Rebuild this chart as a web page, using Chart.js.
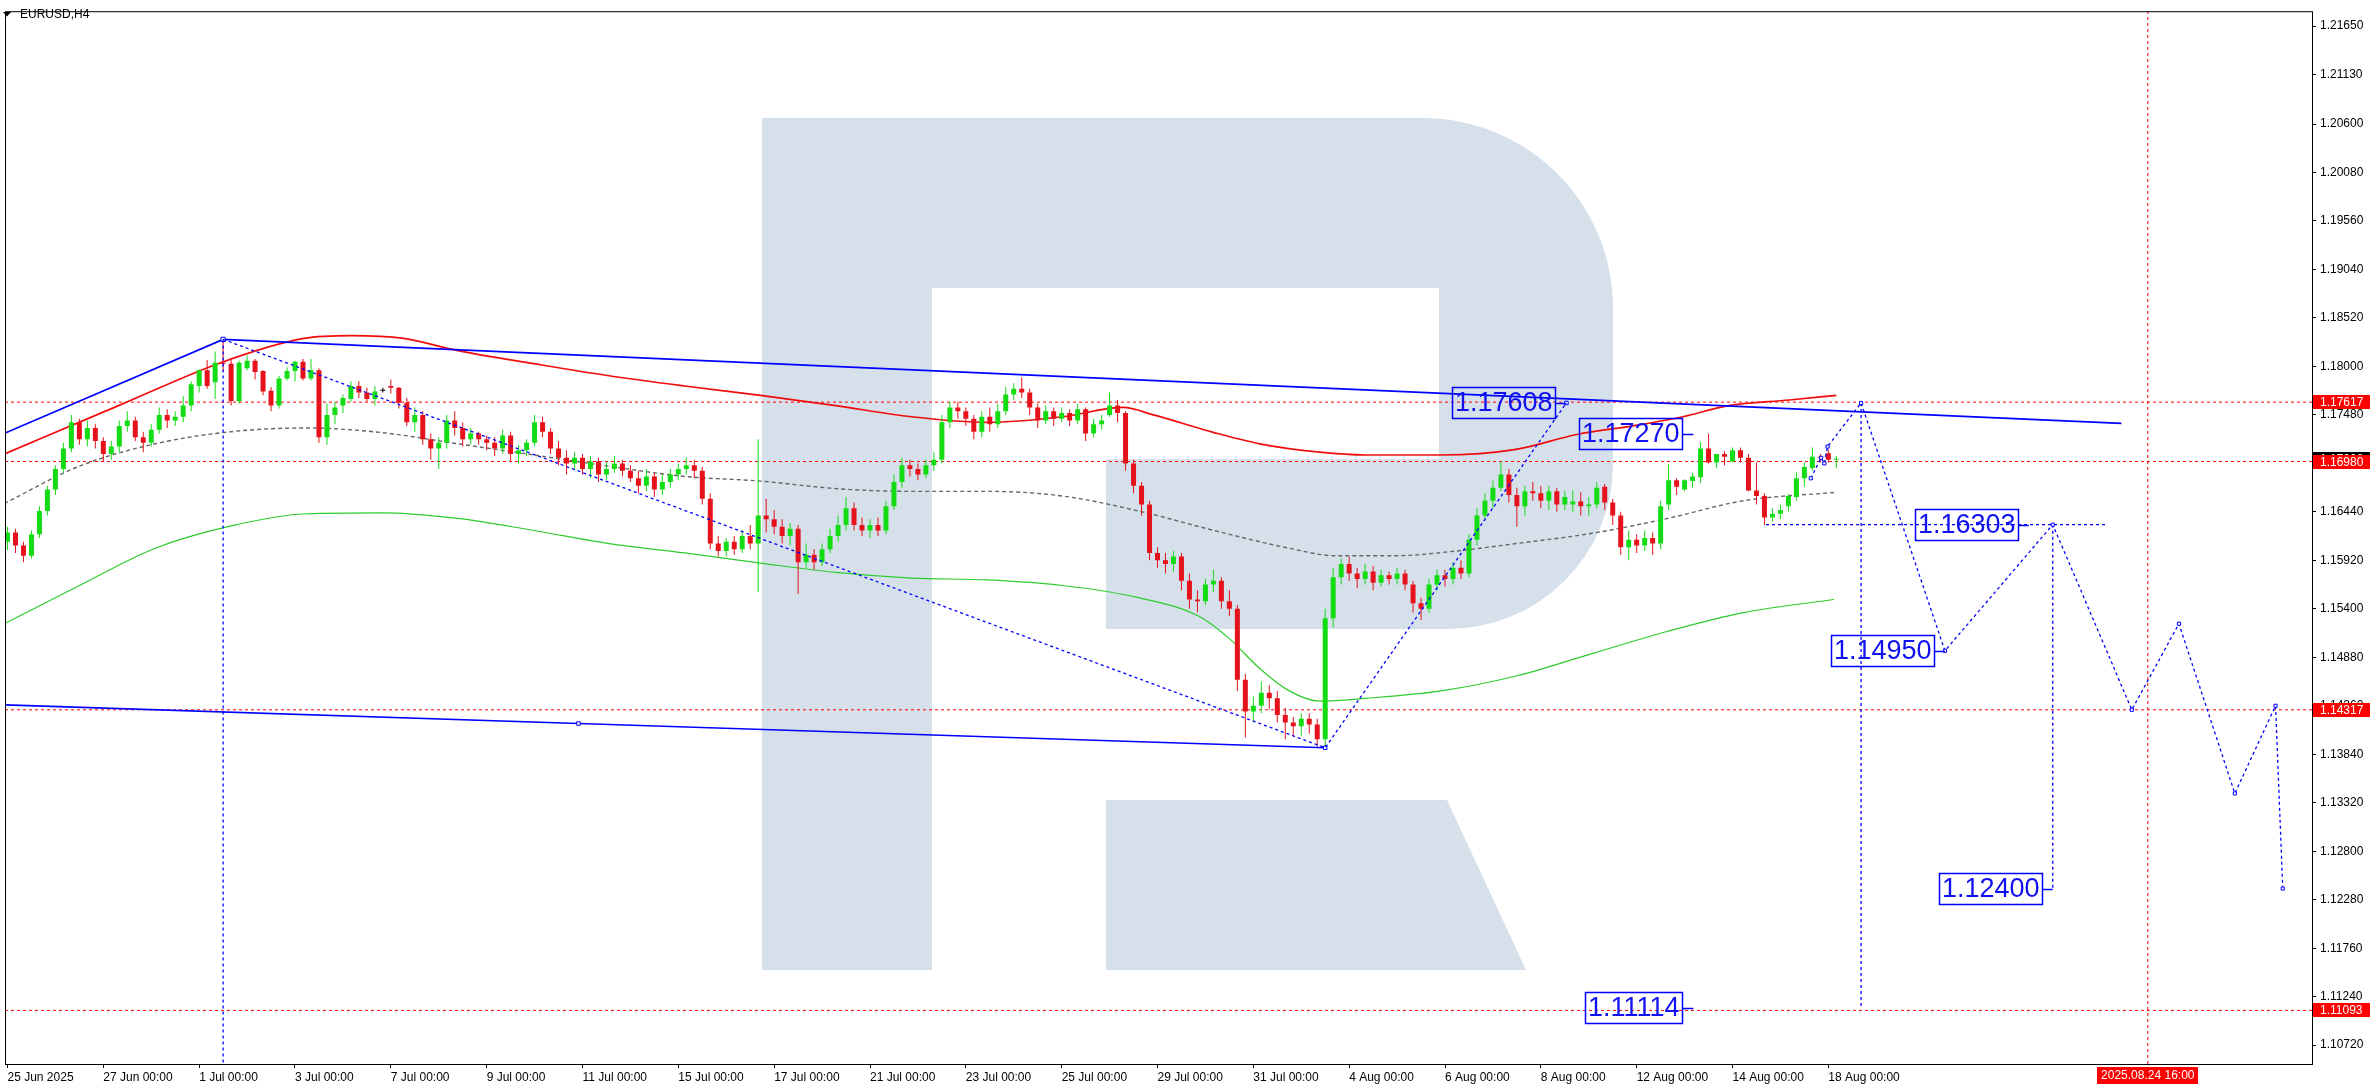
<!DOCTYPE html>
<html>
<head>
<meta charset="utf-8">
<title>EURUSD,H4</title>
<script src="https://cdn.jsdelivr.net/npm/chart.js@4.4.0/dist/chart.umd.min.js"></script>
<style>
  html, body { margin: 0; padding: 0; background: #fff; }
  canvas { display: block; }
</style>
</head>
<body>
<canvas id="chart" width="2376" height="1090" style="width:2376px;height:1090px"></canvas>
<script>
// H4 bars, index 0 = 25 Jun 2025 00:00, one row per trading day
const openP = [
  1.1612,1.1622,1.1608,1.1597,1.1620,1.1645,
  1.1668,1.1690,1.1712,1.1740,1.1722,1.1734,
  1.1720,1.1706,1.1714,1.1736,1.1742,1.1724,
  1.1718,1.1732,1.1748,1.1742,1.1746,1.1758,
  1.1779,1.1796,1.1783,1.1804,1.1803,1.1763,
  1.1798,1.1806,1.1795,1.1774,1.1758,1.1787,
  1.1795,1.1805,1.1787,1.1796,1.1724,1.1748,
  1.1758,1.1765,1.1779,1.1772,1.1765,1.1774,
  1.1779,1.1777,1.1761,1.1740,1.1748,1.1722,
  1.1712,1.1718,1.1742,1.1734,1.1722,1.1728,
  1.1722,1.1718,1.1712,1.1726,1.1706,1.1710,
  1.1718,1.1740,1.1730,1.1712,1.1702,1.1696,
  1.1702,1.1690,1.1698,1.1684,1.1690,1.1696,
  1.1688,1.1680,1.1672,1.1682,1.1668,1.1676,
  1.1684,1.1690,1.1694,1.1688,1.1658,1.1610,
  1.1602,1.1612,1.1604,1.1618,1.1610,1.1640,
  1.1636,1.1628,1.1618,1.1626,1.1590,1.1598,
  1.1590,1.1604,1.1618,1.1630,1.1648,1.1630,
  1.1624,1.1630,1.1624,1.1650,1.1676,1.1694,
  1.1690,1.1684,1.1694,1.1700,1.1740,1.1756,
  1.1752,1.1744,1.1730,1.1746,1.1738,1.1752,
  1.1770,1.1776,1.1772,1.1756,1.1742,1.1752,
  1.1744,1.1750,1.1742,1.1754,1.1728,1.1738,
  1.1748,1.1758,1.1750,1.1696,1.1672,1.1652,
  1.1600,1.1592,1.1588,1.1596,1.1570,1.1550,
  1.1548,1.1566,1.1570,1.1548,1.1540,1.1464,
  1.1430,1.1436,1.1450,1.1444,1.1426,1.1418,
  1.1414,1.1422,1.1416,1.1400,1.1530,1.1574,
  1.1588,1.1578,1.1572,1.1580,1.1568,1.1576,
  1.1572,1.1578,1.1566,1.1546,1.1540,1.1566,
  1.1576,1.1572,1.1584,1.1578,1.1614,1.1640,
  1.1656,1.1670,1.1684,1.1662,1.1650,1.1666,
  1.1664,1.1656,1.1666,1.1652,1.1652,1.1655,
  1.1650,1.1652,1.1671,1.1654,1.1640,1.1606,
  1.1614,1.1608,1.1616,1.1610,1.1652,1.1678,
  1.1668,1.1677,1.1681,1.1712,1.1697,1.1706,
  1.1698,1.1710,1.1702,1.1667,1.1661,1.1638,
  1.1642,1.1650,1.1660,1.1680,1.1691,1.1703,
  1.1707,1.1700
];
const highP = [
  1.1628,1.1626,1.1612,1.1624,1.1650,1.1672,
  1.1694,1.1718,1.1748,1.1744,1.1742,1.1738,
  1.1724,1.1720,1.1742,1.1752,1.1746,1.1730,
  1.1738,1.1756,1.1754,1.1752,1.1768,1.1784,
  1.1797,1.1807,1.1816,1.1829,1.1809,1.1806,
  1.1812,1.1808,1.1796,1.1778,1.1790,1.1799,
  1.1806,1.1808,1.1808,1.1798,1.1760,1.1762,
  1.1770,1.1784,1.1784,1.1777,1.1779,1.1777,
  1.1786,1.1778,1.1766,1.1756,1.1752,1.1728,
  1.1724,1.1748,1.1752,1.1740,1.1734,1.1730,
  1.1726,1.1724,1.1732,1.1730,1.1716,1.1722,
  1.1748,1.1746,1.1734,1.1720,1.1710,1.1708,
  1.1706,1.1704,1.1702,1.1698,1.1704,1.1700,
  1.1694,1.1688,1.1690,1.1686,1.1684,1.1690,
  1.1696,1.1702,1.1700,1.1692,1.1664,1.1618,
  1.1616,1.1618,1.1624,1.1630,1.1722,1.1658,
  1.1646,1.1636,1.1632,1.1630,1.1610,1.1604,
  1.1610,1.1626,1.1640,1.1660,1.1654,1.1638,
  1.1636,1.1638,1.1656,1.1684,1.1702,1.1700,
  1.1696,1.1700,1.1708,1.1748,1.1762,1.1762,
  1.1756,1.1748,1.1752,1.1756,1.1760,1.1778,
  1.1782,1.1788,1.1776,1.1760,1.1758,1.1756,
  1.1756,1.1754,1.1760,1.1756,1.1744,1.1748,
  1.1772,1.1764,1.1752,1.1700,1.1676,1.1656,
  1.1606,1.1600,1.1602,1.1600,1.1578,1.1560,
  1.1572,1.1582,1.1574,1.1560,1.1544,1.1470,
  1.1446,1.1462,1.1458,1.1452,1.1434,1.1424,
  1.1428,1.1428,1.1422,1.1540,1.1584,1.1594,
  1.1596,1.1584,1.1588,1.1586,1.1582,1.1580,
  1.1584,1.1582,1.1570,1.1552,1.1572,1.1582,
  1.1582,1.1590,1.1592,1.1620,1.1648,1.1664,
  1.1678,1.1698,1.1690,1.1670,1.1672,1.1676,
  1.1672,1.1672,1.1670,1.1666,1.1667,1.1665,
  1.1660,1.1676,1.1674,1.1658,1.1644,1.1624,
  1.1620,1.1624,1.1622,1.1656,1.1695,1.1680,
  1.1679,1.1686,1.1719,1.1728,1.1706,1.1709,
  1.1713,1.1713,1.1706,1.1697,1.1664,1.1648,
  1.1652,1.1663,1.1687,1.1697,1.1713,1.1706,
  1.1711,1.1704
];
const lowP = [
  1.1603,1.1600,1.1590,1.1594,1.1616,1.1640,
  1.1662,1.1686,1.1708,1.1716,1.1714,1.1712,
  1.1698,1.1700,1.1708,1.1730,1.1720,1.1708,
  1.1714,1.1728,1.1734,1.1736,1.1740,1.1752,
  1.1772,1.1776,1.1765,1.1795,1.1758,1.1760,
  1.1796,1.1786,1.1769,1.1752,1.1755,1.1785,
  1.1784,1.1785,1.1785,1.1718,1.1716,1.1738,
  1.1750,1.1762,1.1766,1.1762,1.1758,1.1772,
  1.1771,1.1755,1.1736,1.1730,1.1716,1.1700,
  1.1690,1.1712,1.1726,1.1714,1.1716,1.1716,
  1.1710,1.1704,1.1706,1.1698,1.1696,1.1704,
  1.1714,1.1724,1.1706,1.1694,1.1684,1.1690,
  1.1684,1.1680,1.1676,1.1678,1.1686,1.1682,
  1.1676,1.1664,1.1666,1.1660,1.1662,1.1670,
  1.1678,1.1684,1.1680,1.1652,1.1604,1.1596,
  1.1596,1.1598,1.1600,1.1604,1.1558,1.1622,
  1.1620,1.1610,1.1608,1.1556,1.1584,1.1582,
  1.1586,1.1600,1.1612,1.1624,1.1624,1.1618,
  1.1616,1.1618,1.1620,1.1646,1.1670,1.1682,
  1.1678,1.1680,1.1688,1.1696,1.1734,1.1744,
  1.1736,1.1722,1.1724,1.1730,1.1734,1.1748,
  1.1764,1.1766,1.1748,1.1734,1.1738,1.1736,
  1.1740,1.1736,1.1738,1.1720,1.1724,1.1732,
  1.1746,1.1740,1.1688,1.1664,1.1640,1.1592,
  1.1584,1.1578,1.1580,1.1560,1.1540,1.1536,
  1.1544,1.1558,1.1540,1.1532,1.1452,1.1402,
  1.1418,1.1428,1.1432,1.1418,1.1400,1.1404,
  1.1404,1.1406,1.1392,1.1391,1.1520,1.1566,
  1.1570,1.1562,1.1566,1.1560,1.1564,1.1566,
  1.1566,1.1560,1.1536,1.1528,1.1536,1.1560,
  1.1564,1.1566,1.1572,1.1574,1.1608,1.1636,
  1.1648,1.1666,1.1654,1.1628,1.1640,1.1656,
  1.1648,1.1646,1.1644,1.1646,1.1644,1.1640,
  1.1640,1.1648,1.1646,1.1630,1.1598,1.1592,
  1.1600,1.1602,1.1598,1.1604,1.1646,1.1662,
  1.1666,1.1670,1.1675,1.1696,1.1691,1.1694,
  1.1697,1.1697,1.1666,1.1652,1.1630,1.1634,
  1.1636,1.1644,1.1656,1.1671,1.1688,1.1697,
  1.1697,1.1691
];
const closeP = [
  1.1622,1.1608,1.1597,1.1620,1.1645,1.1668,
  1.1690,1.1712,1.1740,1.1722,1.1734,1.1720,
  1.1706,1.1714,1.1736,1.1742,1.1724,1.1718,
  1.1732,1.1748,1.1742,1.1746,1.1758,1.1781,
  1.1796,1.1779,1.1804,1.1803,1.1763,1.1804,
  1.1806,1.1794,1.1773,1.1758,1.1787,1.1795,
  1.1805,1.1787,1.1796,1.1724,1.1748,1.1756,
  1.1766,1.1779,1.1772,1.1765,1.1773,1.1774,
  1.1777,1.1761,1.1740,1.1748,1.1722,1.1712,
  1.1718,1.1742,1.1734,1.1722,1.1728,1.1722,
  1.1718,1.1712,1.1726,1.1706,1.1710,1.1718,
  1.1740,1.1730,1.1712,1.1702,1.1696,1.1702,
  1.1690,1.1698,1.1684,1.1690,1.1696,1.1688,
  1.1680,1.1672,1.1682,1.1668,1.1676,1.1684,
  1.1690,1.1694,1.1688,1.1658,1.1610,1.1602,
  1.1612,1.1604,1.1618,1.1610,1.1640,1.1636,
  1.1628,1.1618,1.1626,1.1590,1.1598,1.1590,
  1.1604,1.1618,1.1630,1.1648,1.1630,1.1624,
  1.1630,1.1624,1.1650,1.1676,1.1694,1.1690,
  1.1684,1.1694,1.1700,1.1740,1.1756,1.1752,
  1.1744,1.1730,1.1746,1.1738,1.1752,1.1770,
  1.1776,1.1772,1.1756,1.1742,1.1752,1.1744,
  1.1750,1.1742,1.1754,1.1728,1.1738,1.1742,
  1.1758,1.1750,1.1696,1.1672,1.1652,1.1600,
  1.1592,1.1588,1.1596,1.1570,1.1550,1.1548,
  1.1566,1.1570,1.1548,1.1540,1.1464,1.1430,
  1.1436,1.1450,1.1444,1.1426,1.1418,1.1414,
  1.1422,1.1416,1.1400,1.1530,1.1574,1.1588,
  1.1578,1.1572,1.1580,1.1568,1.1576,1.1572,
  1.1578,1.1566,1.1546,1.1540,1.1566,1.1576,
  1.1572,1.1584,1.1578,1.1614,1.1640,1.1656,
  1.1670,1.1684,1.1662,1.1650,1.1666,1.1664,
  1.1656,1.1666,1.1652,1.1660,1.1655,1.1650,
  1.1652,1.1670,1.1654,1.1640,1.1606,1.1614,
  1.1608,1.1616,1.1610,1.1650,1.1678,1.1671,
  1.1678,1.1682,1.1712,1.1697,1.1706,1.1703,
  1.1710,1.1702,1.1667,1.1661,1.1638,1.1642,
  1.1646,1.1661,1.1680,1.1692,1.1703,1.1702,
  1.1700,1.17003
];

// moving averages (bar index, price)
const maRedX = [-0.4,14.2,26.7,37.1,43.1,49.6,56.4,65.9,75.3,84.8,94.3,103.7,113.2,122.7,132.1,139.7,143.5,151.1,156.8,164.3,170,179.5,188.9,196.5,204.1,209.8,215.5,223.1,229];
const maRedY = [1.1706,1.1759,1.1804,1.1830,1.1833,1.1830,1.1817,1.1803,1.1790,1.1779,1.1769,1.1758,1.1746,1.1740,1.1746,1.1756,1.1748,1.1729,1.1717,1.1708,1.1705,1.1705,1.1711,1.1727,1.1737,1.1746,1.1758,1.1764,1.1769];
const maGrayX = [-0.4,9,18.5,28,37.4,46.9,56.4,65.9,75.3,84.8,94.3,103.7,113.2,122.7,132.1,141.6,151.1,160.5,166.2,173.8,181.4,188.9,198.4,207.9,217.4,229];
const maGrayY = [1.1653,1.1693,1.1717,1.1730,1.1734,1.1729,1.1717,1.1705,1.1693,1.1682,1.1677,1.1669,1.1666,1.1666,1.1661,1.1645,1.1624,1.1605,1.1597,1.1597,1.1602,1.1610,1.1621,1.1637,1.1656,1.1665];
const maGreenX = [-0.4,9,18.5,28,37.4,46.9,56.4,65.9,75.3,84.8,94.3,103.7,113.2,122.7,132.1,141.6,149.2,153,156.8,160.5,164.3,170,179.5,188.9,198.4,207.9,217.4,228.7];
const maGreenY = [1.1524,1.1565,1.1605,1.1629,1.1642,1.1643,1.1637,1.1624,1.1610,1.1600,1.1589,1.1579,1.1573,1.1571,1.1565,1.1552,1.1532,1.1508,1.1476,1.1452,1.1441,1.1444,1.1452,1.1468,1.1492,1.1516,1.1536,1.1550];

// trend lines and wave forecast
const trendUpX = [-0.44, 27, 264.7];
const trendUpY = [1.1728, 1.1829, 1.1739];
const trendLowX = [-0.44, 71.5, 165];
const trendLowY = [1.1437, 1.1417, 1.1391];
const waveX = [27, 165, 195.2];
const waveY = [1.1829, 1.1391, 1.17608];
const fcX = [225.8, 227.1, 227.5, 227.9, 232.1, 242.6, 256.1, 266.0, 271.9, 278.9, 284.0, 284.9];
const fcY = [1.1680, 1.1702, 1.1696, 1.1714, 1.17608, 1.14950, 1.16303, 1.14317, 1.1524, 1.1342, 1.1436, 1.1240];
const guideBars = [27, 232.1, 256.1];
const guideTop = [1.1829, 1.17608, 1.16303];
const guideBottom = [1.1052, 1.11114, 1.12400];
const shelfX = [220.2, 262.9];
const shelfY = 1.16303;

const levelVals = [1.17617, 1.16980, 1.14317, 1.11093];
const timeLineBar = 268;
const timeLineText = '2025.08.24 16:00';
const bidVal = 1.17008;

const tagTexts = ['1.17608', '1.17270', '1.16303', '1.14950', '1.12400', '1.11114'];
const tagBars = [195.2, 211.1, 253.1, 242.6, 256.1, 211.1];
const tagVals = [1.17608, 1.17270, 1.16303, 1.14950, 1.12400, 1.11114];

const xTickBars = [0,12,24,36,48,60,72,84,96,108,120,132,144,156,168,180,192,204,216,228];
const xTickLabels = ['25 Jun 2025','27 Jun 00:00','1 Jul 00:00','3 Jul 00:00','7 Jul 00:00','9 Jul 00:00',
  '11 Jul 00:00','15 Jul 00:00','17 Jul 00:00','21 Jul 00:00','23 Jul 00:00','25 Jul 00:00',
  '29 Jul 00:00','31 Jul 00:00','4 Aug 00:00','6 Aug 00:00','8 Aug 00:00','12 Aug 00:00',
  '14 Aug 00:00','18 Aug 00:00'];
const yTickVals = [1.21650,1.21130,1.20600,1.20080,1.19560,1.19040,1.18520,1.18000,1.17480,1.16960,1.16440,
  1.15920,1.15400,1.14880,1.14360,1.13840,1.13320,1.12800,1.12280,1.11760,1.11240,1.10720];

const X_MIN = -0.3125, X_MAX = 288.5625;
const Y_MIN = 1.10518, Y_MAX = 1.21810;

const UP = '#14dc14', DOWN = '#e5121b', FLAT = '#000000';
const BLUE = '#0000ff', RED = '#ff0000';
const AXIS_FONT = { family: '"Liberation Sans", Arial, sans-serif', size: 12 };

function pts(xs, ys) {
  return xs.map((x, i) => ({ x: x, y: ys[i] }));
}

const idx = closeP.map((_, i) => i);
const candleColor = idx.map(i => closeP[i] > openP[i] ? UP : (closeP[i] < openP[i] ? DOWN : FLAT));

function lineSet(data, color, width, dash, order, extra) {
  return Object.assign({
    type: 'line', data: data, borderColor: color, borderWidth: width,
    borderDash: dash, pointRadius: 0, fill: false, tension: 0, order: order
  }, extra || {});
}

const datasets = [];
levelVals.forEach(v => {
  datasets.push(lineSet([{ x: X_MIN, y: v }, { x: X_MAX, y: v }], RED, 1, [3, 3], 20));
});
datasets.push(lineSet([{ x: timeLineBar, y: Y_MIN }, { x: timeLineBar, y: Y_MAX }], RED, 1, [3, 3], 20));

datasets.push(lineSet(pts(maGreenX, maGreenY), '#2ccc2c', 1.2, [], 15, { cubicInterpolationMode: 'monotone' }));
datasets.push(lineSet(pts(maGrayX, maGrayY), '#666666', 1.4, [4, 3], 15, { cubicInterpolationMode: 'monotone' }));
datasets.push(lineSet(pts(maRedX, maRedY), '#f20d0d', 1.7, [], 15, { cubicInterpolationMode: 'monotone' }));

datasets.push({
  type: 'bar', order: 10, grouped: false, barThickness: 1, inflateAmount: 0, borderWidth: 0,
  data: idx.map(i => ({ x: i, y: [lowP[i], highP[i]] })),
  backgroundColor: candleColor
});
datasets.push({
  type: 'bar', order: 9, grouped: false, barThickness: 5, minBarLength: 1, inflateAmount: 0, borderWidth: 0,
  data: idx.map(i => ({ x: i, y: [openP[i], closeP[i]] })),
  backgroundColor: candleColor
});

const markerStyle = { pointStyle: 'rect', pointBackgroundColor: '#fff', pointBorderColor: BLUE, pointBorderWidth: 1 };
datasets.push(lineSet(pts(trendUpX, trendUpY), BLUE, 1.7, [], 5,
  Object.assign({}, markerStyle, { pointRadius: [0, 3, 0] })));
datasets.push(lineSet(pts(trendLowX, trendLowY), BLUE, 1.7, [], 5,
  Object.assign({}, markerStyle, { pointRadius: [0, 2.5, 2.5] })));
datasets.push(lineSet(pts(waveX, waveY), BLUE, 1.3, [3, 3], 4,
  Object.assign({}, markerStyle, { pointRadius: [0, 0, 2.5] })));
datasets.push(lineSet(pts(fcX, fcY), BLUE, 1.3, [3, 3], 4,
  Object.assign({}, markerStyle, { pointRadius: 2.2 })));
guideBars.forEach((b, i) => {
  datasets.push(lineSet([{ x: b, y: guideTop[i] }, { x: b, y: guideBottom[i] }], BLUE, 1.3, [3, 3], 4));
});
datasets.push(lineSet([{ x: shelfX[0], y: shelfY }, { x: shelfX[1], y: shelfY }], BLUE, 1.3, [3, 3], 4));

function drawLogo(c) {
  c.fillStyle = 'rgb(213,224,235)';
  c.fillRect(762, 118, 170, 852);
  c.beginPath();
  c.moveTo(932, 118);
  c.lineTo(1423, 118);
  c.arc(1423, 308, 190, -Math.PI / 2, 0);
  c.lineTo(1613, 464);
  c.arc(1448, 464, 165, 0, Math.PI / 2);
  c.lineTo(1106, 629);
  c.lineTo(1106, 459);
  c.lineTo(1439, 459);
  c.lineTo(1439, 288);
  c.lineTo(932, 288);
  c.closePath();
  c.fill();
  c.beginPath();
  c.moveTo(1106, 800);
  c.lineTo(1447, 800);
  c.lineTo(1526, 970);
  c.lineTo(1106, 970);
  c.closePath();
  c.fill();
}

function priceTag(c, y, bg, text) {
  c.fillStyle = bg;
  c.fillRect(2313, Math.round(y) - 7, 57, 14);
  c.fillStyle = '#fff';
  c.font = '12px "Liberation Sans", Arial, sans-serif';
  c.textAlign = 'left';
  c.textBaseline = 'middle';
  c.fillText(text, 2320, Math.round(y) + 0.5);
}

const overlay = {
  id: 'overlay',
  beforeDraw(chart) {
    const c = chart.ctx;
    c.save();
    c.fillStyle = '#fff';
    c.fillRect(0, 0, chart.width, chart.height);
    drawLogo(c);
    c.restore();
  },
  afterDraw(chart) {
    const c = chart.ctx;
    const ca = chart.chartArea;
    const xs = chart.scales.x, ys = chart.scales.y;
    c.save();
    // frame
    c.strokeStyle = '#000';
    c.lineWidth = 1;
    c.strokeRect(ca.left + 0.5, ca.top + 0.5, ca.right - ca.left, ca.bottom - ca.top);

    // symbol caption
    c.fillStyle = '#000';
    c.beginPath();
    c.moveTo(3, 12); c.lineTo(11, 12); c.lineTo(7, 16.5); c.closePath();
    c.fill();
    c.font = '12px "Liberation Sans", Arial, sans-serif';
    c.textBaseline = 'alphabetic';
    c.fillText('EURUSD,H4', 20, 18);

    // price tags on the right axis
    priceTag(c, ys.getPixelForValue(bidVal), '#000', bidVal.toFixed(5));
    levelVals.forEach(v => priceTag(c, ys.getPixelForValue(v), '#ff0000', v.toFixed(5)));

    // time tag on the bottom axis
    const tx = xs.getPixelForValue(timeLineBar);
    c.font = '12px "Liberation Sans", Arial, sans-serif';
    const tw = c.measureText(timeLineText).width + 8;
    c.fillStyle = '#ff0000';
    c.fillRect(Math.round(tx - tw / 2), 1067, Math.round(tw), 17);
    c.fillStyle = '#fff';
    c.textAlign = 'center';
    c.textBaseline = 'middle';
    c.fillText(timeLineText, tx, 1076);

    // wave level labels
    c.font = '27px "Liberation Sans", Arial, sans-serif';
    c.textAlign = 'left';
    c.textBaseline = 'middle';
    tagTexts.forEach((t, i) => {
      const ax = xs.getPixelForValue(tagBars[i]);
      const ay = Math.round(ys.getPixelForValue(tagVals[i]));
      const w = Math.round(c.measureText(t).width) + 5;
      const right = Math.round(ax) - 11;
      c.strokeStyle = BLUE;
      c.lineWidth = 1.5;
      c.strokeRect(right - w + 0.5, ay - 15.5, w, 31);
      c.beginPath();
      c.moveTo(right, ay + 0.5);
      c.lineTo(ax, ay + 0.5);
      c.stroke();
      c.fillStyle = '#1010f0';
      c.fillText(t, right - w + 3, ay + 1);
    });
    c.restore();
  }
};

new Chart(document.getElementById('chart'), {
  type: 'line',
  data: { datasets: datasets },
  options: {
    responsive: false,
    devicePixelRatio: 1,
    animation: false,
    events: [],
    parsing: true,
    layout: { padding: { left: 1, top: 3, right: 0, bottom: 0 } },
    plugins: { legend: { display: false }, tooltip: { enabled: false } },
    scales: {
      x: {
        type: 'linear', position: 'bottom', min: X_MIN, max: X_MAX, offset: false,
        afterFit: s => { s.height = 26; },
        afterBuildTicks: s => { s.ticks = xTickBars.map(v => ({ value: v })); },
        grid: { drawOnChartArea: false, drawTicks: true, tickLength: 4, color: '#000', offset: false },
        border: { display: false },
        ticks: {
          autoSkip: false, maxRotation: 0, minRotation: 0, align: 'start', padding: 2,
          color: '#000', font: AXIS_FONT,
          callback: (v, i) => xTickLabels[i]
        }
      },
      y: {
        type: 'linear', position: 'right', min: Y_MIN, max: Y_MAX,
        afterFit: s => { s.width = 64; },
        afterBuildTicks: s => { s.ticks = yTickVals.map(v => ({ value: v })); },
        grid: { drawOnChartArea: false, drawTicks: true, tickLength: 4, color: '#000' },
        border: { display: false },
        ticks: {
          autoSkip: false, padding: 4, color: '#000', font: AXIS_FONT,
          callback: v => Number(v).toFixed(5)
        }
      }
    }
  },
  plugins: [overlay]
});
</script>
</body>
</html>
